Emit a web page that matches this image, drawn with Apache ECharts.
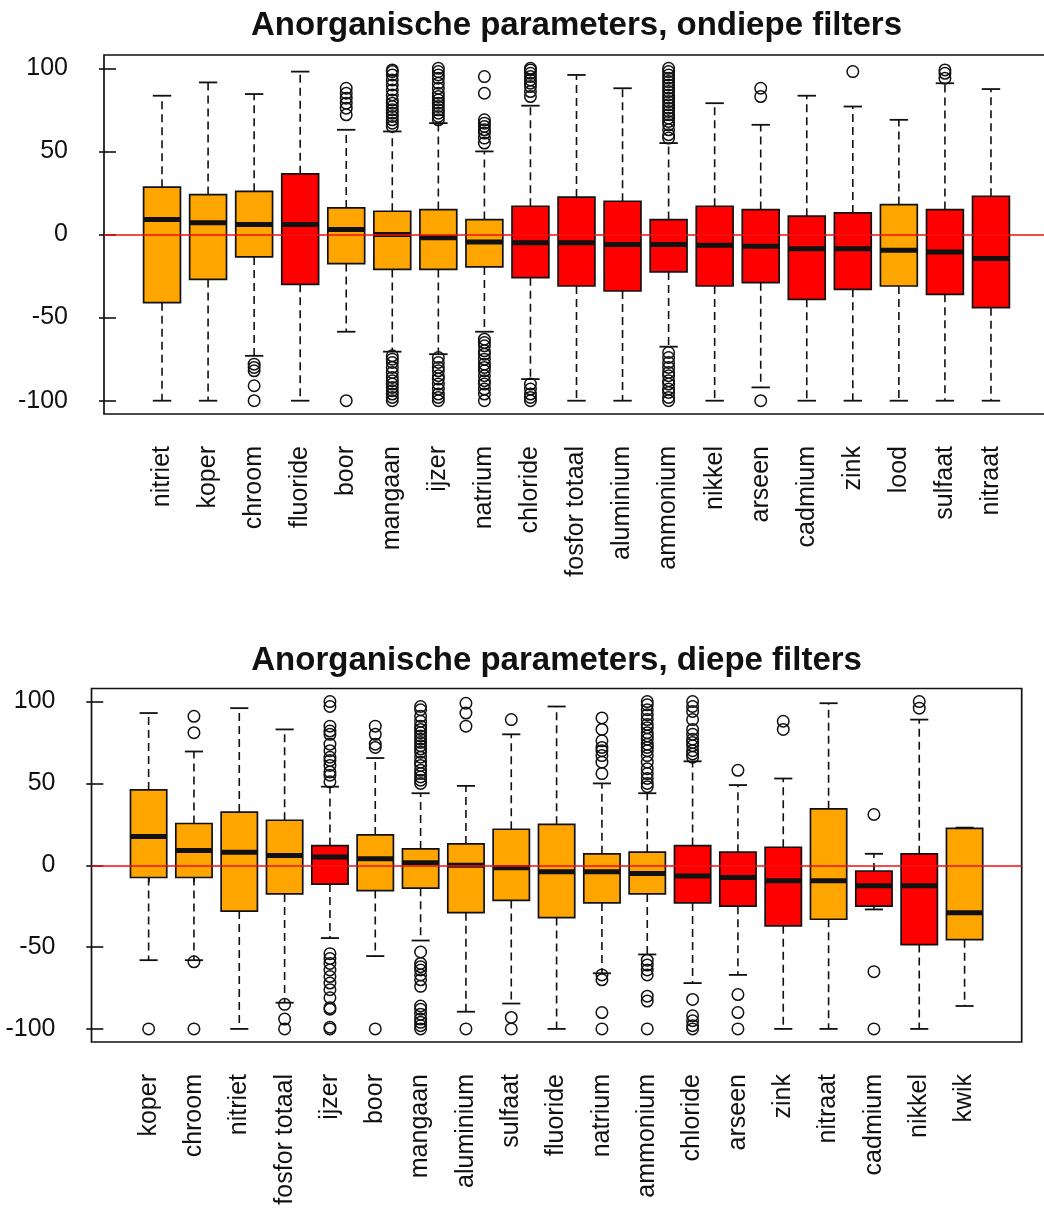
<!DOCTYPE html>
<html>
<head>
<meta charset="utf-8">
<script src="https://cdn.jsdelivr.net/npm/echarts@6/dist/echarts.min.js"></script>
<style>
  html, body { margin: 0; padding: 0; background: #fff; }
  #chart { width: 1044px; height: 1209px; }
</style>
</head>
<body>
<div id="chart"></div>
<script>
// ---------- DATA ----------
const titleTop = 'Anorganische parameters, ondiepe filters';
const titleBottom = 'Anorganische parameters, diepe filters';
const yTicks = [-100, -50, 0, 50, 100];

// Ondiepe filters (top)
const catsTop = ['nitriet','koper','chroom','fluoride','boor','mangaan','ijzer','natrium','chloride','fosfor totaal','aluminium','ammonium','nikkel','arseen','cadmium','zink','lood','sulfaat','nitraat'];
// [lower whisker, Q1, median, Q3, upper whisker]
const boxesTop = [
  [-100, -41, 9, 28.5, 83.5],
  [-100, -27, 7, 24, 91.5],
  [-73, -13.5, 6, 26, 84.5],
  [-100, -30, 6, 36.5, 98],
  [-58.5, -17.5, 3, 16, 63],
  [-70.5, -21, 0, 14, 62],
  [-72, -21, -2, 15, 67],
  [-58.5, -19.5, -4.5, 9, 50],
  [-87, -26, -5, 17, 77.5],
  [-100, -31, -5, 22.5, 96],
  [-100, -34, -6, 20, 88],
  [-67.5, -22.5, -6, 9, 55],
  [-100, -31, -6.5, 17, 79],
  [-92, -29, -7, 15, 66],
  [-100, -39, -8.5, 11, 83.5],
  [-100, -33, -8.5, 13, 77],
  [-100, -31, -9.5, 18, 69],
  [-100, -36, -10.5, 15, 91],
  [-100, -44, -14.5, 23, 87.5]
];
const groupTop = ['o','o','o','r','o','o','o','o','r','r','r','r','r','r','r','r','o','r','r'];
const outliersTop = [
  [],
  [],
  [-78, -80, -82, -91, -100],
  [],
  [88, 85, 82, 79, 76, 72, -100],
  [99, 98, 96, 93, 90, 87, 84, 81, 79, 77, 75, 73, 71, 69, 67, 65,
   -73, -75, -77, -80, -83, -86, -88, -90, -92, -94, -96, -98, -100],
  [100, 98, 96, 94, 91, 88, 85, 83, 81, 79, 77, 75, 73, 71, 69,
   -74, -77, -80, -82, -85, -87, -90, -93, -96, -98, -100],
  [95, 85, 69, 67, 65, 63, 61, 58, 55,
   -63, -65, -67, -70, -72, -75, -78, -80, -82, -85, -88, -90, -93, -96, -100],
  [100, 99, 97, 95, 93, 91, 89, 86, 83, -90, -93, -96, -98, -100],
  [],
  [],
  [100, 98, 96, 94, 92, 90, 88, 86, 84, 82, 80, 78, 76, 74, 72, 70, 68, 66, 63, 60, 58,
   -71, -74, -77, -80, -83, -85, -88, -90, -93, -95, -98, -100],
  [],
  [88, 83, -100],
  [],
  [98],
  [],
  [99, 97, 94],
  []
];

// Diepe filters (bottom)
const catsBottom = ['koper','chroom','nitriet','fosfor totaal','ijzer','boor','mangaan','aluminium','sulfaat','fluoride','natrium','ammonium','chloride','arseen','zink','nitraat','cadmium','nikkel','kwik'];
const boxesBottom = [
  [-58, -7.5, 17.5, 46, 93],
  [-58, -7.5, 9, 25.5, 69.5],
  [-100, -28, 8, 32.5, 96],
  [-84, -17.5, 6, 27.5, 83],
  [-44.5, -11.5, 5, 12, 48],
  [-55.5, -15.5, 4, 18.5, 65.5],
  [-46, -14, 1.5, 10, 44],
  [-89.5, -29, 0, 13, 48.5],
  [-84.5, -21.5, -1.5, 22, 80],
  [-100, -32, -4, 25, 97],
  [-66, -23, -4, 7, 50],
  [-54.5, -17.5, -5, 8, 44],
  [-72, -23, -6.5, 12, 63.5],
  [-67, -25, -7.5, 8, 49],
  [-100, -37, -9.5, 11, 53],
  [-100, -33, -9.5, 34.5, 99],
  [-27, -25, -12.5, -3.5, 7],
  [-100, -48.5, -12.5, 7, 89],
  [-86, -45.5, -29, 22.5, 23]
];
const groupBottom = ['o','o','o','o','r','o','o','o','o','o','o','o','r','r','r','o','r','r','o'];
const outliersBottom = [
  [-100],
  [91, 81, -59, -100],
  [],
  [-85, -94, -100],
  [100, 97, 85, 82, 80, 74, 70, 66, 64, 61, 57, 55, 51,
   -54, -57, -60, -64, -68, -72, -76, -81, -87, -88, -99, -100],
  [85, 80, 74, 72, -100],
  [97, 95, 91, 88, 85, 83, 81, 79, 77, 75, 73, 71, 69, 66, 63, 61, 58, 56, 54, 52, 50,
   -53, -60, -62, -64, -67, -70, -74, -86, -88, -91, -94, -96, -98, -100],
  [99, 93, 85, -100],
  [89, -93, -100],
  [],
  [90, 83, 76, 72, 70, 67, 63, 56, -67, -70, -90, -100],
  [100, 98, 95, 92, 89, 86, 84, 81, 79, 77, 74, 72, 70, 67, 63, 59, 56, 53, 50, 48,
   -58, -61, -64, -67, -80, -83, -100],
  [100, 97, 94, 89, 83, 80, 77, 75, 73, 70, 68, 66, -82, -92, -95, -98, -100],
  [58, -79, -90, -100],
  [88, 83],
  [],
  [31, -65, -100],
  [100, 96],
  []
];

// ---------- STYLE ----------
const FILL = { o: '#FFA500', r: '#FF0000' };
const FONT = 'Liberation Sans, Arial, sans-serif';
const INK = '#111';

function boxData(boxes) {
  return boxes.map((b, i) => [i + 1].concat(b));
}
function outlierData(outs) {
  const res = [];
  outs.forEach((arr, i) => arr.forEach(v => res.push([i + 1, v])));
  return res;
}
function makeRender(groups) {
  return function (params, api) {
    const x = api.value(0);
    const lo = api.value(1), q1 = api.value(2), md = api.value(3), q3 = api.value(4), hi = api.value(5);
    const band = api.size([1, 0])[0];
    const bw = band * 0.8, cw = band * 0.4;
    const pLo = api.coord([x, lo]), pQ1 = api.coord([x, q1]), pMd = api.coord([x, md]);
    const pQ3 = api.coord([x, q3]), pHi = api.coord([x, hi]);
    const cx = pMd[0];
    const dash = { stroke: INK, lineWidth: 1.6, lineDash: [8, 5] };
    const solid = { stroke: INK, lineWidth: 1.8 };
    return {
      type: 'group',
      children: [
        { type: 'line', shape: { x1: cx, y1: pQ3[1], x2: cx, y2: pHi[1] }, style: dash },
        { type: 'line', shape: { x1: cx, y1: pQ1[1], x2: cx, y2: pLo[1] }, style: dash },
        { type: 'line', shape: { x1: cx - cw / 2, y1: pHi[1], x2: cx + cw / 2, y2: pHi[1] }, style: solid },
        { type: 'line', shape: { x1: cx - cw / 2, y1: pLo[1], x2: cx + cw / 2, y2: pLo[1] }, style: solid },
        { type: 'rect', shape: { x: cx - bw / 2, y: pQ3[1], width: bw, height: pQ1[1] - pQ3[1] },
          style: { fill: FILL[groups[params.dataIndex]], stroke: INK, lineWidth: 1.7 } },
        { type: 'line', shape: { x1: cx - bw / 2, y1: pMd[1], x2: cx + bw / 2, y2: pMd[1] },
          style: { stroke: INK, lineWidth: 5 } }
      ]
    };
  };
}

const n = 19;
const xMin = 0.5 - 0.04 * n, xMax = n + 0.5 + 0.04 * n;
const xVals = catsTop.map((c, i) => i + 1);

function xAxis(gridIndex, cats) {
  return {
    type: 'value', gridIndex, min: xMin, max: xMax,
    splitLine: { show: false },
    axisLine: { show: false },
    axisTick: { show: true, customValues: xVals, length: 17, lineStyle: { color: INK, width: 1.6 } },
    axisLabel: {
      customValues: xVals, rotate: 90, margin: 32,
      fontSize: 25, fontFamily: FONT, color: INK,
      formatter: v => cats[Math.round(v) - 1]
    }
  };
}
function yAxis(gridIndex) {
  return {
    type: 'value', gridIndex, min: -108, max: 108,
    splitLine: { show: false },
    axisLine: { show: false },
    axisTick: { show: true, customValues: yTicks, length: 17, lineStyle: { color: INK, width: 1.6 } },
    axisLabel: { customValues: yTicks, margin: 36, fontSize: 25, fontFamily: FONT, color: INK, padding: [6, 0, 0, 0] }
  };
}

const chart = echarts.init(document.getElementById('chart'), null, { renderer: 'canvas' });
chart.setOption({
  animation: false,
  backgroundColor: '#fff',
  title: [
    { text: titleTop, left: 576.5, top: 9, textAlign: 'center', padding: 0,
      textStyle: { fontSize: 33, fontWeight: 'bold', fontFamily: FONT, color: INK } },
    { text: titleBottom, left: 556.6, top: 644, textAlign: 'center', padding: 0,
      textStyle: { fontSize: 33, fontWeight: 'bold', fontFamily: FONT, color: INK } }
  ],
  grid: [
    { left: 104, top: 55, width: 945, height: 359, show: true, borderColor: INK, borderWidth: 1.7,
      backgroundColor: 'transparent', outerBoundsMode: 'none', containLabel: false },
    { left: 91.5, top: 688.5, width: 930.2, height: 353.5, show: true, borderColor: INK, borderWidth: 1.7,
      backgroundColor: 'transparent', outerBoundsMode: 'none', containLabel: false }
  ],
  xAxis: [xAxis(0, catsTop), xAxis(1, catsBottom)],
  yAxis: [yAxis(0), yAxis(1)],
  series: [
    { type: 'custom', xAxisIndex: 0, yAxisIndex: 0, renderItem: makeRender(groupTop),
      data: boxData(boxesTop), encode: { x: 0, y: [1, 2, 3, 4, 5] }, silent: true, z: 2 },
    { type: 'scatter', xAxisIndex: 0, yAxisIndex: 0, data: outlierData(outliersTop),
      symbol: 'circle', symbolSize: 11.5, silent: true, z: 3,
      itemStyle: { color: 'rgba(0,0,0,0)', borderColor: INK, borderWidth: 1.5, opacity: 1 },
      markLine: { silent: true, symbol: 'none', label: { show: false },
        lineStyle: { color: '#F01010', width: 1.6, type: 'solid' }, data: [{ yAxis: 0 }] } },
    { type: 'custom', xAxisIndex: 1, yAxisIndex: 1, renderItem: makeRender(groupBottom),
      data: boxData(boxesBottom), encode: { x: 0, y: [1, 2, 3, 4, 5] }, silent: true, z: 2 },
    { type: 'scatter', xAxisIndex: 1, yAxisIndex: 1, data: outlierData(outliersBottom),
      symbol: 'circle', symbolSize: 11.5, silent: true, z: 3,
      itemStyle: { color: 'rgba(0,0,0,0)', borderColor: INK, borderWidth: 1.5, opacity: 1 },
      markLine: { silent: true, symbol: 'none', label: { show: false },
        lineStyle: { color: '#F01010', width: 1.6, type: 'solid' }, data: [{ yAxis: 0 }] } }
  ]
});
</script>
</body>
</html>
